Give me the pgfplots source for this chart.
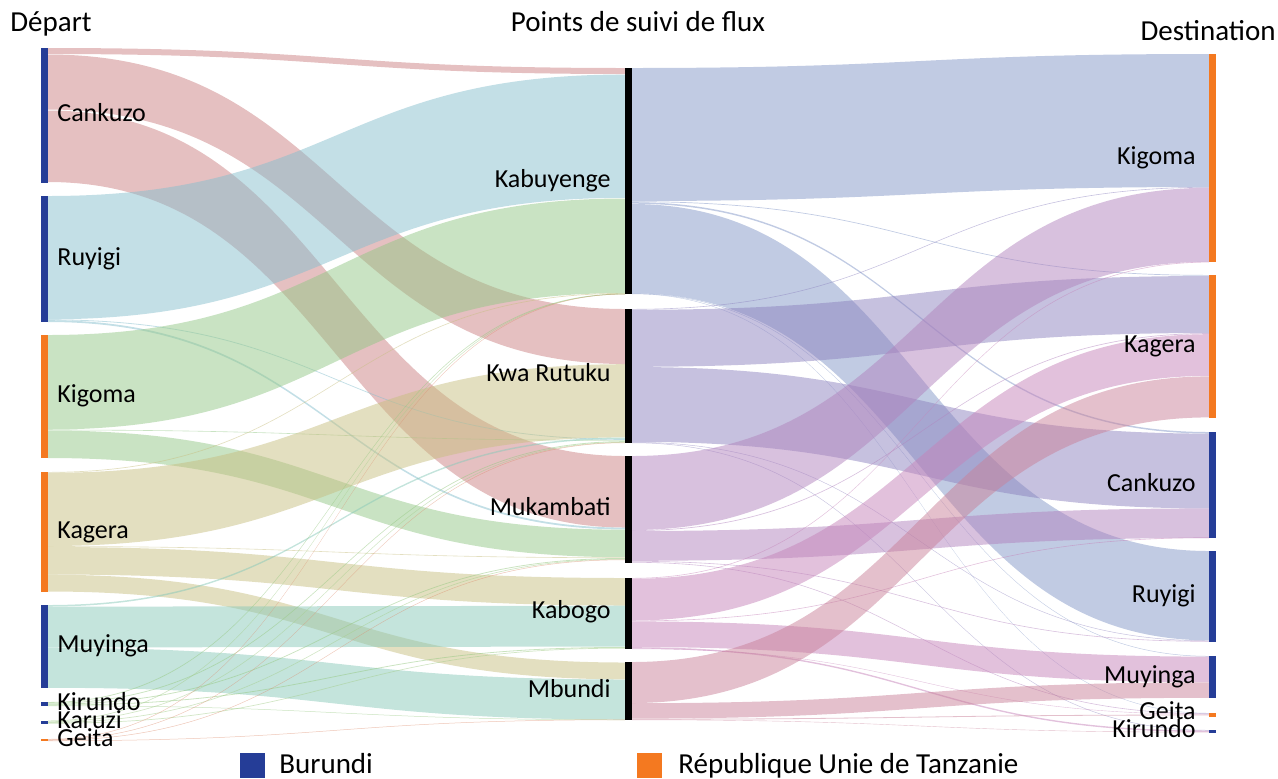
\documentclass[border=0pt]{standalone}
\usepackage{fontspec}
\setmainfont{Carlito}
\usepackage{pgfplots}
\pgfplotsset{compat=1.18}

\definecolor{nodeblue}{RGB}{37,61,151}
\definecolor{nodeorange}{RGB}{244,121,32}
% link colours (drawn at 50% opacity)
\definecolor{cCank}{RGB}{203,129,131}
\definecolor{cRuy}{RGB}{135,191,205}
\definecolor{cKig}{RGB}{147,199,135}
\definecolor{cKag}{RGB}{199,191,129}
\definecolor{cMuy}{RGB}{137,201,185}
\definecolor{cKir}{RGB}{150,200,130}
\definecolor{cKar}{RGB}{165,205,140}
\definecolor{cGei}{RGB}{220,140,110}
\definecolor{mKab}{RGB}{131,151,199}
\definecolor{mKR}{RGB}{141,131,191}
\definecolor{mMuk}{RGB}{177,131,189}
\definecolor{mKbg}{RGB}{197,131,185}
\definecolor{mMbu}{RGB}{201,129,153}

% band: top/bottom at source, top/bottom at target, colour
\newcommand{\linkL}[5]{\fill[#5,fill opacity=0.5] (axis cs:48,#1) .. controls (axis cs:336.5,#1) and (axis cs:336.5,#3) .. (axis cs:625,#3) -- (axis cs:625,#4) .. controls (axis cs:336.5,#4) and (axis cs:336.5,#2) .. (axis cs:48,#2) -- cycle;}
\newcommand{\linkR}[5]{\fill[#5,fill opacity=0.5] (axis cs:632,#1) .. controls (axis cs:920.5,#1) and (axis cs:920.5,#3) .. (axis cs:1209,#3) -- (axis cs:1209,#4) .. controls (axis cs:920.5,#4) and (axis cs:920.5,#2) .. (axis cs:632,#2) -- cycle;}
% node bar: x0 x1 ytop ybot colour
\newcommand{\nbar}[5]{\addplot[draw=none,fill=#5] coordinates {(#1,#3) (#2,#3) (#2,#4) (#1,#4)} -- cycle;}

\newcommand{\lbl}{\fontsize{13}{15}\selectfont}
\newcommand{\ttl}{\fontsize{14.5}{17}\selectfont}

\begin{document}
\begin{tikzpicture}
\begin{axis}[
  width=639pt,height=389pt,scale only axis,
  xmin=0,xmax=1278,ymin=0,ymax=778,
  y dir=reverse,
  hide axis,clip=false,
]
\path (axis cs:0,0) rectangle (axis cs:1278,778);

% ---- Depart -> points de suivi
\linkL{48}{54}{68}{74}{cCank}
\linkL{54.5}{109.5}{309}{364}{cCank}
\linkL{110.5}{182}{456}{527.5}{cCank}
\linkL{196}{319.3}{74.5}{197.8}{cRuy}
\linkL{319.4}{320.2}{439}{439.8}{cRuy}
\linkL{320.2}{322}{527.6}{529.4}{cRuy}
\linkL{335}{429.5}{198.5}{293}{cKig}
\linkL{429.7}{430.3}{440}{440.6}{cKig}
\linkL{430.5}{458}{529.7}{557.2}{cKig}
\linkL{472}{472.7}{293}{293.7}{cKag}
\linkL{472.8}{546}{364.2}{437.4}{cKag}
\linkL{546.2}{546.8}{557.4}{558}{cKag}
\linkL{547}{574.5}{578}{605.5}{cKag}
\linkL{574.7}{591.5}{662.5}{679.3}{cKag}
\linkL{605}{606.5}{437.5}{439}{cMuy}
\linkL{606.7}{647.5}{605.7}{646.5}{cMuy}
\linkL{647.8}{687.8}{679.5}{719.5}{cMuy}
\linkL{702}{702.8}{293.6}{294.4}{cKir}
\linkL{702.9}{703.7}{441.2}{442}{cKir}
\linkL{703.8}{704.6}{558}{558.8}{cKir}
\linkL{704.7}{705.5}{647}{647.8}{cKir}
\linkL{705.5}{706}{719.5}{720}{cKir}
\linkL{720.5}{721.2}{293.6}{294.3}{cKar}
\linkL{721.3}{722}{442}{442.7}{cKar}
\linkL{722.1}{722.8}{558.8}{559.5}{cKar}
\linkL{722.9}{723.6}{647.8}{648.5}{cKar}
\linkL{739}{739.5}{293.8}{294.3}{cGei}
\linkL{739.5}{740}{442.5}{443}{cGei}
\linkL{740}{740.5}{559.5}{560}{cGei}
\linkL{740.5}{741}{719.5}{720}{cGei}

% ---- points de suivi -> Destination
\linkR{68}{201}{54}{187}{mKab}
\linkR{201.3}{202}{275}{275.7}{mKab}
\linkR{202.2}{203.7}{432}{433.5}{mKab}
\linkR{204}{293.3}{551}{640.3}{mKab}
\linkR{293.3}{293.8}{656}{656.5}{mKab}
\linkR{293.6}{294}{713}{713.4}{mKab}
\linkR{309}{309.6}{187}{187.6}{mKR}
\linkR{309.8}{366.8}{276}{333}{mKR}
\linkR{367}{441.8}{433.6}{508.4}{mKR}
\linkR{442}{442.5}{640.5}{641}{mKR}
\linkR{442.5}{443}{730}{730.5}{mKR}
\linkR{456}{530}{187.8}{261.8}{mMuk}
\linkR{530.2}{530.9}{333.2}{333.9}{mMuk}
\linkR{531}{560.8}{508.4}{538}{mMuk}
\linkR{561}{561.6}{641}{641.6}{mMuk}
\linkR{562}{562.6}{713.4}{714}{mMuk}
\linkR{578}{578.6}{261.8}{262.4}{mKbg}
\linkR{578.8}{620.5}{334.2}{375.9}{mKbg}
\linkR{620.6}{621.2}{537.4}{538}{mKbg}
\linkR{621.4}{647}{656.6}{682.2}{mKbg}
\linkR{647.2}{648.6}{730.5}{731.9}{mKbg}
\linkR{648.6}{649}{714}{714.4}{mKbg}
\linkR{662}{703}{376.4}{417.4}{mMbu}
\linkR{703.2}{718.6}{682.4}{697.8}{mMbu}
\linkR{718.8}{719.6}{714.6}{715.4}{mMbu}
\linkR{719.6}{720}{732}{732.4}{mMbu}

% ---- node bars
\nbar{41}{48}{48}{183}{nodeblue}
\nbar{41}{48}{196}{322}{nodeblue}
\nbar{41}{48}{335}{458}{nodeorange}
\nbar{41}{48}{472}{592}{nodeorange}
\nbar{41}{48}{605}{688}{nodeblue}
\nbar{41}{48}{702}{706}{nodeblue}
\nbar{41}{48}{720.5}{724}{nodeblue}
\nbar{41}{48}{739}{741}{nodeorange}
\nbar{625}{632}{68}{294}{black}
\nbar{625}{632}{309}{443}{black}
\nbar{625}{632}{456}{563}{black}
\nbar{625}{632}{578}{649}{black}
\nbar{625}{632}{662}{720}{black}
\nbar{1209}{1216}{54}{262}{nodeorange}
\nbar{1209}{1216}{275}{418}{nodeorange}
\nbar{1209}{1216}{432}{538}{nodeblue}
\nbar{1209}{1216}{551}{642}{nodeblue}
\nbar{1209}{1216}{656}{698}{nodeblue}
\nbar{1209}{1216}{713}{717}{nodeorange}
\nbar{1209}{1216}{730}{733}{nodeblue}

% ---- labels
\begin{scope}[every node/.style={inner sep=0pt,font=\lbl}]
\node[anchor=base west] at (axis cs:57,121.5) {Cankuzo};
\node[anchor=base west] at (axis cs:57,265) {Ruyigi};
\node[anchor=base west] at (axis cs:57,402.5) {Kigoma};
\node[anchor=base west] at (axis cs:57,538) {Kagera};
\node[anchor=base west] at (axis cs:57,652.5) {Muyinga};
\node[anchor=base west] at (axis cs:57,710) {Kirundo};
\node[anchor=base west] at (axis cs:57,728) {Karuzi};
\node[anchor=base west] at (axis cs:57,746) {Geita};
\node[anchor=base east] at (axis cs:611,187) {Kabuyenge};
\node[anchor=base east] at (axis cs:611,381) {Kwa Rutuku};
\node[anchor=base east] at (axis cs:611,515) {Mukambati};
\node[anchor=base east] at (axis cs:611,618) {Kabogo};
\node[anchor=base east] at (axis cs:611,697) {Mbundi};
\node[anchor=base east] at (axis cs:1196,164) {Kigoma};
\node[anchor=base east] at (axis cs:1196,352) {Kagera};
\node[anchor=base east] at (axis cs:1196,491) {Cankuzo};
\node[anchor=base east] at (axis cs:1196,602.5) {Ruyigi};
\node[anchor=base east] at (axis cs:1196,683) {Muyinga};
\node[anchor=base east] at (axis cs:1196,719) {Geita};
\node[anchor=base east] at (axis cs:1196,737) {Kirundo};
\end{scope}

% ---- titles
\node[anchor=base west,inner sep=0pt,font=\ttl] at (axis cs:10,31) {Départ};
\node[anchor=base,inner sep=0pt,font=\ttl] at (axis cs:638,31) {Points de suivi de flux};
\node[anchor=base east,inner sep=0pt,font=\ttl] at (axis cs:1276,40) {Destination};

% ---- legend
\nbar{240}{265}{753}{778}{nodeblue}
\nbar{637}{662}{753}{778}{nodeorange}
\node[anchor=base west,inner sep=0pt,font=\ttl] at (axis cs:279,773) {Burundi};
\node[anchor=base west,inner sep=0pt,font=\ttl] at (axis cs:678,773) {République Unie de Tanzanie};
\end{axis}
\end{tikzpicture}
\end{document}
